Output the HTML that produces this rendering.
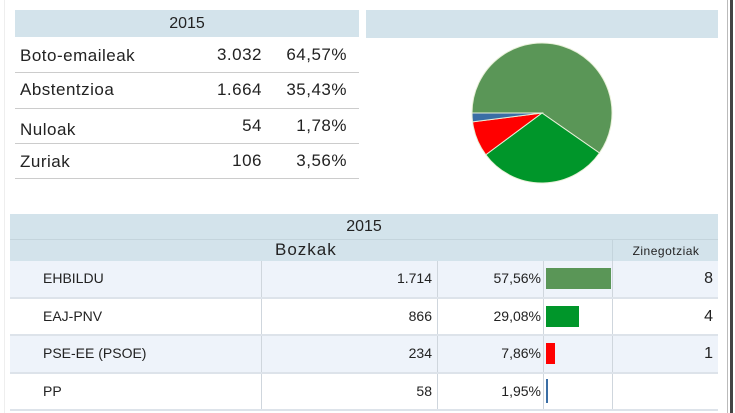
<!DOCTYPE html>
<html><head><meta charset="utf-8"><style>
body{margin:0;width:735px;height:413px;overflow:hidden;background:#fff;font-family:"Liberation Sans",sans-serif;color:#222;position:relative}
.a{position:absolute}
.hd{background:#d3e3eb}
.t{position:absolute;font-size:17px;letter-spacing:.5px}
.r{text-align:right}
.ln{position:absolute;height:1px;background:#ccc}
.c{position:absolute;font-size:14px}
</style></head><body>
<div class="a" style="left:4px;top:0;width:1px;height:413px;background:#eee"></div>
<div class="a" style="left:727px;top:0;width:1px;height:413px;background:#bbb"></div>
<div class="a" style="left:730px;top:0;width:3px;height:413px;background:#444"></div>

<!-- top table -->
<div class="a hd" style="left:15px;top:10px;width:344px;height:27px;text-align:center;font-size:16px;line-height:27px">2015</div>
<div>
<div class="t" style="left:20px;top:46px">Boto-emaileak</div>
<div class="t r" style="left:180px;width:82px;top:45px">3.032</div>
<div class="t r" style="left:270px;width:77px;top:45px">64,57%</div>
<div class="ln" style="left:15px;width:344px;top:72px"></div>
<div class="t" style="left:20px;top:80px">Abstentzioa</div>
<div class="t r" style="left:180px;width:82px;top:80px">1.664</div>
<div class="t r" style="left:270px;width:77px;top:80px">35,43%</div>
<div class="ln" style="left:15px;width:344px;top:108px"></div>
<div class="t" style="left:20px;top:120px">Nuloak</div>
<div class="t r" style="left:180px;width:82px;top:116px">54</div>
<div class="t r" style="left:270px;width:77px;top:116px">1,78%</div>
<div class="ln" style="left:15px;width:344px;top:143px"></div>
<div class="t" style="left:20px;top:152px">Zuriak</div>
<div class="t r" style="left:180px;width:82px;top:151px">106</div>
<div class="t r" style="left:270px;width:77px;top:151px">3,56%</div>
<div class="ln" style="left:15px;width:344px;top:178px"></div>
</div>

<div class="a hd" style="left:366px;top:10px;width:352px;height:28px"></div>
<svg class="a" id="pie" style="left:366px;top:38px" width="352" height="160"></svg>

<!-- bottom table -->
<div class="a hd" style="left:10px;top:214px;width:708px;height:25px;text-align:center;font-size:16px;line-height:25px;border-bottom:1px solid #c4d4dc">2015</div>
<div class="a hd" style="left:10px;top:240px;width:708px;height:21px"></div>
<div class="a" style="left:275px;top:240px;font-size:17px;letter-spacing:1px">Bozkak</div>
<div class="a" style="left:612px;top:240px;width:106px;height:21px;border-left:1px solid #c4d4dc;text-align:center;font-size:12px;line-height:22px;letter-spacing:.5px">Zinegotziak</div>
<div id="rows"></div>

<script>
const parties=["EHBILDU","EAJ-PNV","PSE-EE (PSOE)","PP"];
const votes=[1714,866,234,58];
const voteLabels=["1.714","866","234","58"];
const percents=[57.56,29.08,7.86,1.95];
const pctLabels=["57,56%","29,08%","7,86%","1,95%"];
const seats=["8","4","1",""];
const colors=["#5a9657","#00962a","#ff0000","#3a6ea5"];

const rowsEl=document.getElementById('rows');
const top0=261,rh=37.5;
const barScale=v=>v/57.56*65;
parties.forEach((p,i)=>{
  const y=top0+i*rh;
  const row=document.createElement('div');
  row.className='a';
  
  
  row.style.cssText=`left:10px;top:${y}px;width:708px;height:${rh}px;background:${i%2==0?'#eef3fa':'#fff'};border-bottom:2px solid #dde3ea;box-sizing:border-box`;
  const cell=(x,w,txt,align,name)=>{
    const d=document.createElement('div');
    d.className='c';
    d.style.cssText=`left:${x}px;width:${w}px;top:0;height:${rh-2}px;line-height:${rh-2}px;text-align:${align};border-left:${x>0?'1px solid #cfd6dd':'none'};box-sizing:border-box;padding:0 5px`;
    d.textContent=txt;
    row.appendChild(d);return d;
  };
  const n=cell(0,251,p,'left');n.style.paddingLeft='33px';
  
  
  const v=cell(251,176,voteLabels[i],'right');
  
  
  const pc=cell(427,106,pctLabels[i],'right');pc.style.paddingRight='2px';
  
  
  const bc=cell(533,69,'','left');
  
  
  const b=document.createElement('div');
  b.className='a';
  
  
  b.style.cssText=`left:2px;top:${i==3?5:7}px;width:${Math.max(1,barScale(percents[i]))}px;height:${i==3?24:21}px;background:${colors[i]}`;
  bc.appendChild(b);
  const s=cell(602,106,seats[i],'right');s.style.fontSize='16px';
  
  
  rowsEl.appendChild(row);
});

// pie
const svg=document.getElementById('pie');
const cx=176,cy=75,r=70;
const total=votes.reduce((a,b)=>a+b,0);
let ang=Math.PI; // start at 9 o'clock, clockwise
votes.forEach((v,i)=>{
  const a2=ang+v/total*2*Math.PI;
  const x1=cx+r*Math.cos(ang),y1=cy+r*Math.sin(ang);
  const x2=cx+r*Math.cos(a2),y2=cy+r*Math.sin(a2);
  const large=(a2-ang)>Math.PI?1:0;
  const path=document.createElementNS('http://www.w3.org/2000/svg','path');
  path.setAttribute('d',`M${cx},${cy}L${x1},${y1}A${r},${r} 0 ${large} 1 ${x2},${y2}Z`);
  path.setAttribute('fill',colors[i]);
  path.setAttribute('stroke','#e8f0d8');
  path.setAttribute('stroke-width','1');
  
  
  svg.appendChild(path);
  ang=a2;
});
</script>
</body></html>
